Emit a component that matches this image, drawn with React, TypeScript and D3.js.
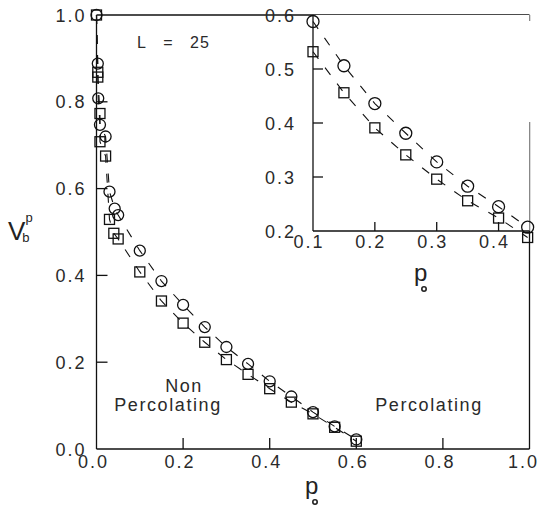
import { useEffect, useRef } from "react"
import { select, scaleLinear, line } from "d3"

// main panel: p_o vs V_b^p, L = 25
const mainPCircle = [0, 0.003, 0.004, 0.008, 0.021, 0.03, 0.042, 0.05, 0.1, 0.15, 0.2, 0.25, 0.3, 0.35, 0.4, 0.45, 0.5, 0.55, 0.6]
const mainVCircle = [1.0, 0.888, 0.808, 0.747, 0.72, 0.593, 0.554, 0.539, 0.457, 0.387, 0.332, 0.281, 0.235, 0.196, 0.156, 0.121, 0.085, 0.052, 0.022]
const mainPSquare = [0, 0.003, 0.003, 0.008, 0.008, 0.021, 0.03, 0.04, 0.05, 0.1, 0.15, 0.2, 0.25, 0.3, 0.35, 0.4, 0.45, 0.5, 0.55, 0.6]
const mainVSquare = [1.0, 0.868, 0.857, 0.773, 0.708, 0.675, 0.529, 0.497, 0.484, 0.408, 0.341, 0.29, 0.246, 0.206, 0.172, 0.139, 0.108, 0.081, 0.05, 0.018]

// inset
const insetP = [0.1, 0.15, 0.2, 0.25, 0.3, 0.35, 0.4, 0.447]
const insetVCircle = [0.588, 0.506, 0.436, 0.381, 0.328, 0.283, 0.245, 0.207]
const insetVSquare = [0.532, 0.456, 0.391, 0.341, 0.296, 0.256, 0.224, 0.188]

const mainTickLabels = [0, 0.2, 0.4, 0.6, 0.8, 1.0]
const mainTickMarks = [0.2, 0.4, 0.6, 0.8]
const insetXLabels = [0.1, 0.2, 0.3, 0.4]
const insetXMarks = [0.2, 0.3, 0.4]
const insetYLabels = [0.2, 0.3, 0.4, 0.5, 0.6]
const insetYMarks = [0.3, 0.4, 0.5]

const FONT = "'Liberation Sans', Arial, sans-serif"
const INK = "#111"

export default function App() {
  const ref = useRef<SVGSVGElement>(null)

  useEffect(() => {
    const svg = select(ref.current)
    svg.selectAll("*").remove()

    const x = scaleLinear().domain([0, 1]).range([96.5, 529.5])
    const y = scaleLinear().domain([0, 1]).range([449, 15])
    const ix = scaleLinear().domain([0.1, 0.45]).range([313, 529.5])
    const iy = scaleLinear().domain([0.2, 0.6]).range([231, 15])

    const seg = (x1: number, y1: number, x2: number, y2: number, w = 1.3) =>
      svg
        .append("line")
        .attr("x1", x1)
        .attr("y1", y1)
        .attr("x2", x2)
        .attr("y2", y2)
        .attr("stroke", INK)
        .attr("stroke-width", w)

    const label = (t: string, tx: number, ty: number, anchor = "middle", size = 18, spacing = 2) =>
      svg
        .append("text")
        .attr("x", tx)
        .attr("y", ty)
        .attr("text-anchor", anchor)
        .attr("font-family", FONT)
        .attr("font-size", size)
        .attr("letter-spacing", spacing)
        .attr("fill", "#2a2a2a")
        .text(t)

    // main frame
    seg(x(0), y(0), x(0), y(1))
    seg(x(0), y(0), x(1), y(0))
    seg(x(0), y(1), x(1), y(1))
    seg(x(1), y(1), x(1), y(1) + 6)
    seg(x(1), 122, x(1), y(0))

    mainTickMarks.forEach((t) => {
      seg(x(t), y(0), x(t), y(0) - 11)
      seg(x(0), y(t), x(0) + 11, y(t))
    })
    mainTickLabels.forEach((t) => {
      label(t.toFixed(1), x(t) - (t === 1 ? 6 : 3), y(0) + 19)
      label(t.toFixed(1), x(0) - 10, y(t) + 6.5, "end")
    })

    const drawSeries = (
      xs: number[],
      ys: number[],
      sx: (v: number) => number,
      sy: (v: number) => number,
      kind: "circle" | "square",
      size: number
    ) => {
      const pts = xs.map((p, i) => [p, ys[i]] as [number, number])
      const gen = line<[number, number]>()
        .x((d) => sx(d[0]))
        .y((d) => sy(d[1]))
      svg
        .append("path")
        .datum(pts)
        .attr("d", gen)
        .attr("fill", "none")
        .attr("stroke", INK)
        .attr("stroke-width", 1.1)
        .attr("stroke-dasharray", "9,11")
      if (kind === "circle") {
        svg
          .append("g")
          .selectAll("circle")
          .data(pts)
          .join("circle")
          .attr("cx", (d) => sx(d[0]))
          .attr("cy", (d) => sy(d[1]))
          .attr("r", size)
          .attr("fill", "none")
          .attr("stroke", INK)
          .attr("stroke-width", 1.3)
      } else {
        svg
          .append("g")
          .selectAll("rect")
          .data(pts)
          .join("rect")
          .attr("x", (d) => sx(d[0]) - size / 2)
          .attr("y", (d) => sy(d[1]) - size / 2)
          .attr("width", size)
          .attr("height", size)
          .attr("fill", "none")
          .attr("stroke", INK)
          .attr("stroke-width", 1.3)
      }
    }

    drawSeries(mainPSquare, mainVSquare, x, y, "square", 10)
    drawSeries(mainPCircle, mainVCircle, x, y, "circle", 5.5)

    // inset frame
    svg
      .append("rect")
      .attr("x", ix(0.1))
      .attr("y", iy(0.6))
      .attr("width", ix(0.45) - ix(0.1))
      .attr("height", iy(0.2) - iy(0.6))
      .attr("fill", "#fff")
    seg(ix(0.1), iy(0.2), ix(0.1), iy(0.6))
    seg(ix(0.1), iy(0.2), ix(0.45), iy(0.2))
    insetXMarks.forEach((t) => seg(ix(t), iy(0.2), ix(t), iy(0.2) - 9))
    insetYMarks.forEach((t) => seg(ix(0.1), iy(t), ix(0.1) + 10, iy(t)))
    insetXLabels.forEach((t) => label(t.toFixed(1), ix(t) - 4, iy(0.2) + 17))
    insetYLabels.forEach((t) => label(t.toFixed(1), ix(0.1) - 17, iy(t) + 6.5, "end"))

    drawSeries(insetP, insetVSquare, ix, iy, "square", 10)
    drawSeries(insetP, insetVCircle, ix, iy, "circle", 6)

    // texts
    label("L", 137, 48, "start", 16, 0)
    label("=", 168, 48, "middle", 16, 0)
    label("25", 190, 48, "start", 16, 1)
    label("Non", 184, 392, "middle", 18, 1.5)
    label("Percolating", 168, 411, "middle", 18, 1.6)
    label("Percolating", 429, 411, "middle", 18, 1.6)

    // axis titles
    const pTitle = (px: number, py: number) => {
      svg
        .append("text")
        .attr("x", px)
        .attr("y", py)
        .attr("font-family", FONT)
        .attr("font-size", 24)
        .attr("font-weight", 300)
        .attr("fill", "#222")
        .text("p")
      svg
        .append("circle")
        .attr("cx", px + 10)
        .attr("cy", py + 8)
        .attr("r", 2.2)
        .attr("fill", "none")
        .attr("stroke", "#222")
        .attr("stroke-width", 1.6)
    }
    pTitle(305, 494)
    pTitle(414, 281)

    const vt = svg
      .append("text")
      .attr("x", 8)
      .attr("y", 240)
      .attr("font-family", FONT)
      .attr("fill", "#222")
    vt.append("tspan").attr("font-size", 26).text("V")
    vt.append("tspan").attr("font-size", 13).attr("dx", -3).attr("dy", 2).text("b")
    vt.append("tspan").attr("font-size", 13).attr("dx", -4).attr("dy", -20).text("p")
  }, [])

  return (
    <svg
      ref={ref}
      width={540}
      height={506}
      style={{ position: "absolute", left: 0, top: 0, background: "#fff" }}
    />
  )
}
